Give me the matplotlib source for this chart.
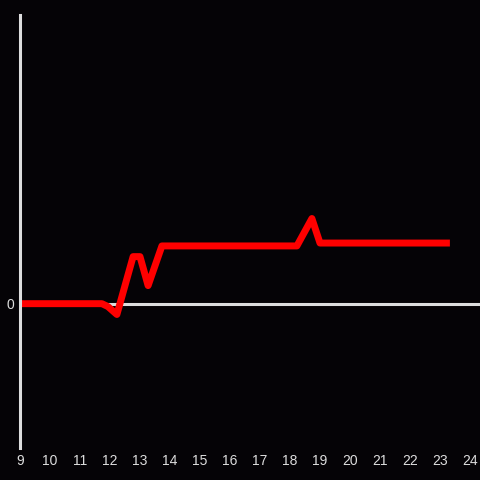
"""Step-like red trace on a dark background."""

import matplotlib

matplotlib.use("Agg")
import matplotlib.pyplot as plt

hours = [9.0, 11.73, 11.93, 12.23, 12.77, 13.0, 13.27, 13.73, 18.23, 18.73, 19.0, 23.33]
values = [0.0, 0.0, -0.02, -0.075, 0.326, 0.326, 0.125, 0.40, 0.40, 0.59, 0.42, 0.42]
x_ticks = list(range(9, 25))

bg = "#050306"
fg = "#dddddd"

plt.rcParams["font.family"] = ["Liberation Sans", "DejaVu Sans"]

fig = plt.figure(figsize=(4.8, 4.8), dpi=100, facecolor=bg)
ax = fig.add_axes([20 / 480, 32 / 480, 460 / 480, 433 / 480], facecolor=bg)

ax.axhline(0, color=fg, linewidth=2.2, zorder=1)
ax.plot(hours, values, color="#ff0000", linewidth=5.0, zorder=2,
        solid_capstyle="butt")

ax.set_xlim(9, 9 + 460 / 30)
ax.set_ylim(-1, 2)
ax.set_xticks(x_ticks)
ax.set_yticks([0])

for side in ("top", "right", "bottom"):
    ax.spines[side].set_visible(False)
ax.spines["left"].set_color(fg)
ax.spines["left"].set_linewidth(2.2)

ax.tick_params(axis="both", length=0, colors=fg, labelsize=10)
ax.tick_params(axis="x", pad=4)
ax.tick_params(axis="y", pad=4)

fig.savefig("out.png", dpi=100, facecolor=bg)
